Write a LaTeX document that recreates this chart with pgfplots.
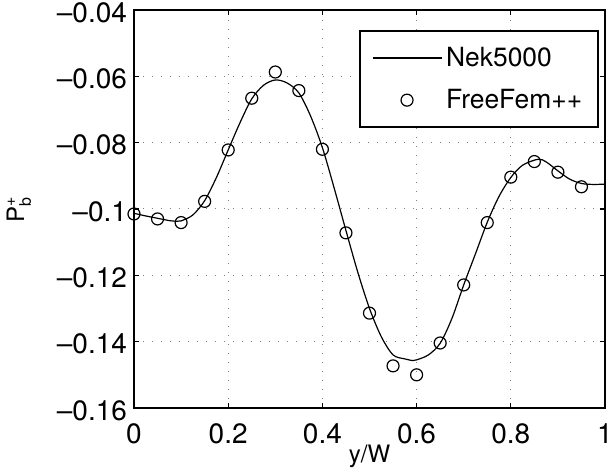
\documentclass[border=0pt]{standalone}
\usepackage{fontspec}
\setmainfont{TeX Gyre Heros}
\usepackage{amsmath}
\usepackage{pgfplots}
\pgfplotsset{compat=1.18}

\pgfplotsset{
    leg line/.style={legend image code/.code={\draw[##1] (0pt,0pt) -- (34.5pt,0pt);}},
    leg mark/.style={legend image code/.code={\draw[mark repeat=2, mark phase=2, ##1]
        plot coordinates {(0pt,0pt) (17.25pt,0pt) (34.5pt,0pt)};}},
}

% Nek5000 profile
\pgfplotstableread{
x      p
0.000 -0.1013
0.025 -0.1021
0.050 -0.1028
0.075 -0.1035
0.090 -0.1037
0.100 -0.1036
0.125 -0.1018
0.150 -0.0975
0.175 -0.0905
0.200 -0.0822
0.225 -0.0740
0.250 -0.0668
0.275 -0.0627
0.300 -0.0611
0.325 -0.0620
0.350 -0.0650
0.375 -0.0720
0.400 -0.0815
0.425 -0.0937
0.450 -0.1065
0.475 -0.1190
0.500 -0.1300
0.525 -0.1385
0.550 -0.1440
0.575 -0.1452
0.592 -0.1457
0.600 -0.1455
0.625 -0.1440
0.650 -0.1405
0.675 -0.1330
0.700 -0.1229
0.725 -0.1135
0.750 -0.1040
0.775 -0.0962
0.800 -0.0905
0.825 -0.0868
0.858 -0.0850
0.875 -0.0858
0.900 -0.0885
0.925 -0.0910
0.950 -0.0923
0.975 -0.0926
1.000 -0.0925
}\nekdata

% FreeFem++ points
\pgfplotstableread{
x      p
0.00 -0.1015
0.05 -0.1030
0.10 -0.1041
0.15 -0.0977
0.20 -0.0822
0.25 -0.0666
0.30 -0.0587
0.35 -0.0643
0.40 -0.0820
0.45 -0.1072
0.50 -0.1314
0.55 -0.1473
0.60 -0.1500
0.65 -0.1404
0.70 -0.1229
0.75 -0.1041
0.80 -0.0904
0.85 -0.0857
0.90 -0.0889
0.95 -0.0933
}\ffdata

\begin{document}
\begin{tikzpicture}
\begin{axis}[
    scale only axis,
    width=235.5pt, height=199pt,
    xmin=0, xmax=1,
    ymin=-0.16, ymax=-0.04,
    xtick={0,0.2,0.4,0.6,0.8,1},
    xticklabels={0,0.2,0.4,0.6,0.8,1},
    ytick={-0.16,-0.14,-0.12,-0.1,-0.08,-0.06,-0.04},
    yticklabels={--0.16,--0.14,--0.12,--0.1,--0.08,--0.06,--0.04},
    tick label style={font=\fontsize{14}{16}\selectfont},
    xticklabel shift=4.5pt,
    yticklabel style={yshift=-1.2pt},
    label style={font=\fontsize{12}{14}\selectfont},
    xlabel={y/W},
    ylabel={P$^{\text{+}}_{\text{b}}$},
    xlabel shift=-6.5pt,
    ylabel shift=6pt,
    axis line style={line width=0.8pt},
    tick align=inside,
    major tick length=2.5pt,
    tick style={black, line width=0.6pt},
    xmajorgrids=true, ymajorgrids=true,
    grid style={gray, line width=0.5pt, dash pattern=on 0.5pt off 4pt},
    legend style={
        at={(axis description cs:1,1)}, anchor=north east,
        xshift=-3pt, yshift=-10pt,
        draw=black, line width=0.8pt,
        font=\fontsize{13.2}{15}\selectfont,
        inner xsep=6pt, inner ysep=6pt,
        row sep=6pt,
    },
    legend cell align=left,
]

\addplot[black, line width=0.6pt, smooth, no markers, leg line]
    table[x=x, y=p] {\nekdata};

\addplot[black, only marks, mark=o, mark size=3pt, mark options={line width=0.6pt}, leg mark]
    table[x=x, y=p] {\ffdata};

\legend{Nek5000, FreeFem++}
\end{axis}
\pgfresetboundingbox
\path ([shift={(-67pt,-33pt)}]current axis.south west)
    rectangle ([shift={(2pt,5pt)}]current axis.north east);
\end{tikzpicture}
\end{document}
